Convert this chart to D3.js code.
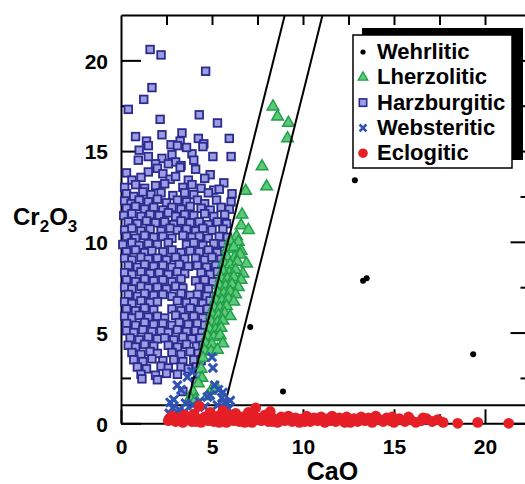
<!DOCTYPE html>
<html>
<head>
<meta charset="utf-8">
<script src="https://cdn.jsdelivr.net/npm/d3@7"></script>
<style>
  html, body { margin: 0; padding: 0; background: #fff; overflow: hidden; }
  svg { display: block; font-family: "Liberation Sans", Arial, Helvetica, sans-serif; font-weight: bold; }
</style>
</head>
<body>
<svg id="chart" width="525" height="484"></svg>
<script>
// Garnet CaO vs Cr2O3 (wt%) classification plot

const xMajorTicks = [0, 5, 10, 15, 20];
const xMinorTicks = [2.5, 7.5, 12.5, 17.5];
const yMajorTicks = [0, 5, 10, 15, 20];
const yMinorTicks = [2.5, 7.5, 12.5, 17.5];
const topTicks = [2.5, 5, 7.5, 10, 12.5, 15, 17.5, 20];

// Field boundaries: CaO = intercept + slope * Cr2O3, above the Cr2O3 = 1 cut
const crCut = 1.0;
const boundaries = [
  { intercept: 3.375, slope: 0.25 },
  { intercept: 5.45, slope: 0.25 }
];

const seriesNames = ["Wehrlitic", "Lherzolitic", "Harzburgitic", "Websteritic", "Eclogitic"];

// [CaO, Cr2O3]
const wehrlitic = [
  [12.85, 13.4], [13.3, 7.85], [13.5, 8.0], [19.35, 3.8], [8.9, 1.75], [7.1, 5.3]
];

const harzburgitic = [
  [1.6, 20.6], [2.2, 20.3], [4.65, 19.4], [1.7, 18.5], [1.25, 17.85], [0.4, 17.3], [2.15, 16.75],
  [4.3, 17.0], [5.3, 16.55], [0.8, 15.8], [1.4, 15.55], [2.25, 15.9], [3.35, 16.0], [3.25, 15.55],
  [2.75, 15.35], [4.25, 15.7], [4.55, 15.4], [5.95, 15.7], [1.0, 15.05], [0.95, 14.5], [2.25, 14.6],
  [2.8, 14.8], [5.05, 14.7], [6.05, 14.7], [1.9, 14.3], [3.0, 14.4], [3.9, 14.85], [1.5, 15.3],
  [3.1, 15.3], [3.6, 15.2], [4.5, 15.25], [2.6, 14.3], [3.3, 14.2], [4.0, 14.5], [1.5, 14.7],
  [0.3, 13.8], [1.5, 13.85], [2.0, 14.05], [2.3, 13.75], [3.25, 14.1], [4.1, 14.0], [4.9, 13.7],
  [0.6, 13.4], [1.1, 13.55], [2.7, 13.45], [3.0, 13.6], [3.7, 13.4], [4.6, 13.5], [5.65, 13.25],
  [0.2, 13.0], [0.8, 13.15], [1.3, 12.95], [1.9, 13.1], [2.4, 13.2], [3.4, 13.0], [3.9, 13.15],
  [4.4, 12.95], [5.1, 12.85], [5.4, 12.9],
  [0.3, 12.65], [0.7, 12.5], [1.2, 12.75], [1.65, 12.6], [2.2, 12.7], [2.85, 12.55], [3.5, 12.7],
  [4.0, 12.6], [4.8, 12.7], [6.1, 12.65],
  [0.2, 12.25], [0.55, 12.1], [1.0, 12.3], [1.5, 12.2], [2.0, 12.35], [2.5, 12.15], [3.1, 12.3],
  [3.6, 12.2], [4.2, 12.3], [4.6, 12.1], [5.25, 12.3], [6.05, 12.2],
  [0.3, 11.85], [0.8, 11.95], [1.3, 11.8], [1.8, 11.9], [2.3, 11.75], [2.8, 11.9], [3.3, 11.8],
  [3.8, 11.95], [4.4, 11.85], [4.9, 11.75], [5.5, 11.9], [5.95, 11.8],
  [0.15, 11.45], [0.6, 11.55], [1.1, 11.4], [1.6, 11.5], [2.1, 11.45], [2.6, 11.6], [3.0, 11.4],
  [3.5, 11.5], [4.0, 11.45], [4.6, 11.55], [5.1, 11.4], [5.7, 11.5],
  [0.4, 11.1], [0.9, 11.0], [1.4, 11.15], [1.9, 11.05], [2.4, 11.1], [2.9, 10.95], [3.3, 11.15],
  [3.8, 11.05], [4.3, 11.1], [4.8, 10.95], [5.3, 11.1], [5.8, 11.0],
  [0.2, 10.65], [0.6, 10.75], [1.1, 10.6], [1.6, 10.7], [2.2, 10.6], [2.7, 10.75], [3.1, 10.65],
  [3.6, 10.7], [4.1, 10.6], [4.5, 10.75], [5.0, 10.65], [5.6, 10.7],
  [0.3, 10.3], [0.8, 10.2], [1.3, 10.35], [1.8, 10.25], [2.3, 10.3], [2.8, 10.2], [3.4, 10.35],
  [3.9, 10.25], [4.3, 10.3], [4.8, 10.2], [5.4, 10.3], [5.85, 10.25],
  [0.1, 9.85], [0.6, 9.95], [1.0, 9.8], [1.5, 9.9], [2.0, 9.85], [2.6, 9.95], [3.6, 9.85],
  [4.0, 9.95], [4.5, 9.8], [5.1, 9.9], [5.6, 9.85],
  [0.3, 9.45], [0.8, 9.55], [1.3, 9.4], [1.7, 9.5], [2.3, 9.45], [2.8, 9.55], [3.3, 9.4],
  [3.8, 9.5], [4.3, 9.45], [4.8, 9.55], [5.3, 9.4], [5.7, 9.5],
  [0.2, 9.1], [0.6, 9.0], [1.1, 9.15], [1.5, 9.05], [2.0, 9.1], [2.5, 9.0], [3.0, 9.15],
  [3.5, 9.05], [4.1, 9.1], [4.6, 9.0], [5.0, 9.15], [5.5, 9.05],
  [0.4, 8.7], [0.9, 8.6], [1.3, 8.75], [1.8, 8.65], [2.3, 8.7], [2.8, 8.6], [3.2, 8.75],
  [3.7, 8.65], [4.2, 8.7], [4.7, 8.6], [5.2, 8.7],
  [0.2, 8.3], [0.6, 8.2], [1.1, 8.35], [1.6, 8.25], [2.1, 8.3], [2.6, 8.2], [3.1, 8.35],
  [3.5, 8.25], [4.4, 8.3], [4.9, 8.2], [5.3, 8.35],
  [0.3, 7.9], [0.8, 7.8], [1.3, 7.95], [1.8, 7.85], [2.3, 7.9], [2.8, 7.8], [3.3, 7.95],
  [4.1, 7.85], [4.6, 7.9], [5.05, 7.8],
  [0.2, 7.5], [0.6, 7.4], [1.1, 7.55], [1.5, 7.45], [2.0, 7.5], [2.5, 7.4], [3.0, 7.55],
  [3.4, 7.45], [4.3, 7.5], [4.8, 7.4],
  [0.4, 7.1], [0.9, 7.0], [1.3, 7.15], [1.8, 7.05], [2.3, 7.1], [2.8, 7.0], [3.3, 7.15],
  [3.8, 7.05], [4.2, 7.1], [4.7, 7.0],
  [0.2, 6.7], [0.6, 6.6], [1.1, 6.75], [1.6, 6.65], [2.0, 6.7], [3.1, 6.75], [3.6, 6.65],
  [4.0, 6.7], [4.5, 6.6], [4.9, 6.75],
  [0.3, 6.3], [0.8, 6.2], [1.3, 6.35], [1.8, 6.25], [2.8, 6.3], [3.3, 6.2], [3.8, 6.35],
  [4.3, 6.25], [4.75, 6.3],
  [0.2, 5.9], [0.6, 5.8], [1.0, 5.95], [1.5, 5.85], [2.0, 5.9], [2.4, 5.8], [3.0, 5.95],
  [3.5, 5.85], [4.0, 5.9], [4.5, 5.8],
  [0.3, 5.5], [0.8, 5.4], [1.3, 5.55], [1.8, 5.45], [2.3, 5.5], [2.8, 5.4], [3.2, 5.55],
  [3.7, 5.45], [4.2, 5.5], [4.6, 5.4],
  [0.3, 5.1], [0.7, 5.0], [1.2, 5.15], [1.7, 5.05], [2.2, 5.1], [2.6, 5.0], [3.1, 5.15],
  [3.6, 5.05], [4.1, 5.1], [4.45, 5.0],
  [0.5, 4.7], [1.0, 4.6], [1.5, 4.75], [2.0, 4.65], [2.4, 4.7], [2.9, 4.6], [3.4, 4.75],
  [3.9, 4.65], [4.35, 4.7],
  [0.4, 4.3], [0.8, 4.2], [1.3, 4.35], [1.8, 4.25], [2.6, 4.3], [3.1, 4.2], [3.6, 4.35],
  [4.15, 4.25], [4.5, 4.3],
  [0.6, 3.9], [1.1, 3.8], [1.6, 3.95], [2.0, 3.85], [2.8, 3.9], [3.3, 3.8], [3.8, 3.95], [4.25, 3.85],
  [0.7, 3.5], [1.2, 3.4], [1.7, 3.55], [2.3, 3.45], [2.9, 3.5], [3.4, 3.4], [4.0, 3.5], [4.4, 3.45],
  [0.9, 3.1], [1.4, 3.0], [2.2, 3.15], [2.6, 3.05], [3.3, 3.1], [3.7, 3.0], [4.15, 3.1],
  [1.1, 2.7], [1.9, 2.65], [2.5, 2.75], [3.1, 2.7], [4.3, 2.6],
  [1.15, 2.45], [2.0, 2.4], [4.1, 2.3], [3.4, 1.75]
];

const lherzolitic = [
  [8.35, 17.45], [8.6, 16.9], [9.2, 16.55], [9.15, 15.7], [7.75, 14.15], [8.0, 13.05],
  [6.85, 12.8], [6.65, 11.5], [6.6, 10.9], [7.0, 10.65], [6.35, 10.3],
  [6.0, 10.05], [6.45, 10.0],
  [5.85, 9.6], [6.2, 9.7], [6.6, 9.5],
  [5.8, 9.2], [6.25, 9.15], [6.55, 9.3],
  [5.65, 8.85], [6.0, 8.75], [6.4, 8.9], [6.9, 8.8],
  [5.6, 8.4], [5.95, 8.3], [6.3, 8.45], [6.7, 8.25],
  [5.5, 8.0], [5.85, 7.95], [6.2, 8.05], [6.6, 7.9],
  [5.4, 7.6], [5.75, 7.55], [6.1, 7.65], [6.45, 7.5],
  [5.3, 7.2], [5.65, 7.15], [6.0, 7.25], [6.3, 7.1],
  [5.2, 6.8], [5.55, 6.75], [5.9, 6.85], [6.2, 6.7],
  [5.1, 6.4], [5.45, 6.35], [5.8, 6.45],
  [5.0, 6.0], [5.35, 5.95], [5.7, 6.05], [6.0, 5.9],
  [4.95, 5.6], [5.3, 5.55], [5.6, 5.65],
  [4.85, 5.2], [5.2, 5.15], [5.5, 5.25],
  [4.75, 4.8], [5.1, 4.75], [5.45, 4.85],
  [4.65, 4.4], [5.0, 4.35], [5.6, 4.4],
  [4.6, 4.0], [4.95, 3.95], [5.3, 4.05],
  [4.5, 3.6], [4.4, 3.0], [4.45, 2.5], [4.25, 2.2],
  [3.95, 1.75], [4.95, 1.8], [4.75, 1.5], [3.8, 1.4], [4.1, 1.3], [5.25, 1.95]
];

const websteritic = [
  [5.0, 3.65], [5.05, 3.05], [3.1, 2.1], [3.3, 1.85], [5.15, 2.1], [5.35, 1.85], [4.9, 1.55],
  [5.55, 1.4], [5.7, 1.15], [2.7, 1.15], [2.85, 0.85], [3.5, 0.65], [3.95, 1.0], [3.8, 0.3],
  [5.0, 0.2], [3.9, 2.85], [3.65, 2.55], [4.75, 1.45], [5.6, 1.7], [2.65, 0.55], [3.2, 0.75],
  [3.3, 0.4], [4.3, 1.2], [4.6, 0.9], [5.3, 1.0], [5.9, 0.8], [2.9, 1.3], [3.55, 1.1],
  [6.0, 1.25], [4.05, 0.5]
];

const eclogitic = [
  [2.6, 0.15], [2.8, 0.4], [3.0, 0.1], [3.2, 0.3], [3.4, 0.05], [3.5, 0.45], [3.7, 0.2],
  [3.9, 0.1], [4.0, 0.5], [4.2, 0.25], [4.3, 0.95], [4.4, 0.05], [4.6, 0.35], [4.8, 0.15],
  [4.9, 0.6], [5.1, 0.1], [5.3, 0.4], [5.5, 0.2], [5.6, 0.7], [5.8, 0.05], [6.0, 0.3],
  [6.2, 0.15], [6.3, 0.55], [6.5, 0.1], [6.7, 0.35], [6.9, 0.2], [7.0, 0.6], [7.2, 0.05],
  [7.4, 0.85], [7.5, 0.3], [7.7, 0.15], [7.9, 0.45], [8.1, 0.1], [8.2, 0.65], [8.4, 0.25],
  [8.6, 0.05], [8.8, 0.35], [9.0, 0.15], [9.2, 0.4], [9.4, 0.1], [9.6, 0.3], [9.8, 0.05],
  [10.0, 0.25], [10.2, 0.4], [10.4, 0.1], [10.6, 0.3], [10.8, 0.15], [11.0, 0.35], [11.2, 0.05],
  [11.4, 0.25], [11.6, 0.4], [11.8, 0.1], [12.0, 0.3], [12.2, 0.15], [12.4, 0.35], [12.6, 0.05],
  [12.8, 0.25], [13.0, 0.1], [13.2, 0.35], [13.4, 0.15], [13.6, 0.3], [13.8, 0.05], [14.0, 0.4],
  [14.2, 0.2], [14.4, 0.1], [14.6, 0.3], [14.8, 0.15], [15.0, 0.05], [15.3, 0.25], [15.6, 0.1],
  [15.9, 0.2], [16.2, 0.05], [16.5, 0.15], [16.8, 0.25], [17.1, 0.1], [17.4, 0.2], [17.7, 0.05],
  [18.5, 0.0], [19.6, 0.05], [21.3, 0.0],
  [2.7, 0.3], [3.1, 0.2], [3.6, 0.35], [4.1, 0.1], [4.5, 0.25], [5.0, 0.3], [5.4, 0.05],
  [5.9, 0.45], [6.4, 0.25], [6.8, 0.05], [7.3, 0.4], [7.8, 0.25], [8.3, 0.1], [8.9, 0.2],
  [9.5, 0.25], [10.1, 0.1], [10.9, 0.3], [11.5, 0.15], [12.3, 0.05], [13.1, 0.2], [13.9, 0.25],
  [14.9, 0.35], [15.8, 0.35], [16.6, 0.3]
];

const colors = {
  wehrlitic: "#000000",
  lherzFill: "#5cc978", lherzStroke: "#1f9f47",
  harzFill: "#9d9de3", harzStroke: "#2b2b8f",
  webster: "#2f52b4",
  eclogite: "#e61e25"
};

const svg = d3.select("#chart");
const x = d3.scaleLinear().domain([0, 22.5]).range([121, 530.5]);
const y = d3.scaleLinear().domain([0, 22.5]).range([423.3, 15]);

const timesSymbol = d3.symbolTimes || d3.symbolX;

function styleAxis(g) {
  g.attr("font-family", null).attr("font-size", null);
  g.selectAll("path.domain").attr("stroke", "#000").attr("stroke-width", 2);
  g.selectAll(".tick line").attr("stroke", "#000").attr("stroke-width", 2);
  g.selectAll(".tick text").attr("fill", "#000").style("font-size", "21px").style("font-weight", "bold");
}

// Frame and axes
const gLeft = svg.append("g").attr("transform", `translate(${x(0)},0)`)
  .call(d3.axisLeft(y).tickValues(yMajorTicks).tickSize(-20).tickSizeOuter(0).tickPadding(13).tickFormat(d3.format("d")));
styleAxis(gLeft);
gLeft.selectAll(".tick text").attr("dy", "0.37em");
const gLeftMinor = svg.append("g").attr("transform", `translate(${x(0)},0)`)
  .call(d3.axisLeft(y).tickValues(yMinorTicks).tickSize(-10).tickFormat(""));
styleAxis(gLeftMinor);
gLeftMinor.select("path.domain").remove();

const gRight = svg.append("g").attr("transform", `translate(${x(22.5)},0)`)
  .call(d3.axisRight(y).tickValues(yMajorTicks).tickSize(-20).tickSizeOuter(0).tickFormat(""));
styleAxis(gRight);
const gRightMinor = svg.append("g").attr("transform", `translate(${x(22.5)},0)`)
  .call(d3.axisRight(y).tickValues(yMinorTicks).tickSize(-10).tickFormat(""));
styleAxis(gRightMinor);
gRightMinor.select("path.domain").remove();

const gTop = svg.append("g").attr("transform", `translate(0,${y(22.5)})`)
  .call(d3.axisTop(x).tickValues(topTicks).tickSize(-10).tickSizeOuter(0).tickFormat(""));
styleAxis(gTop);

const gBottom = svg.append("g").attr("transform", `translate(0,${y(0)})`)
  .call(d3.axisBottom(x).tickValues(xMajorTicks).tickSize(-14).tickSizeOuter(0).tickPadding(16).tickFormat(d3.format("d")));
styleAxis(gBottom);
const gBottomMinor = svg.append("g").attr("transform", `translate(0,${y(0)})`)
  .call(d3.axisBottom(x).tickValues(xMinorTicks).tickSize(-9).tickFormat(""));
styleAxis(gBottomMinor);
gBottomMinor.select("path.domain").remove();

// Harzburgitic squares
const sq = 7.6;
svg.append("g").selectAll("rect").data(harzburgitic).join("rect")
  .attr("x", d => x(d[0]) - sq / 2).attr("y", d => y(d[1]) - sq / 2)
  .attr("width", sq).attr("height", sq)
  .attr("fill", colors.harzFill).attr("stroke", colors.harzStroke).attr("stroke-width", 1.8);

// Lherzolitic triangles
svg.append("g").selectAll("path").data(lherzolitic).join("path")
  .attr("d", d3.symbol(d3.symbolTriangle, 58))
  .attr("transform", d => `translate(${x(d[0])},${y(d[1])})`)
  .attr("fill", colors.lherzFill).attr("stroke", colors.lherzStroke).attr("stroke-width", 1.5);

// Boundary lines
const lineGen = d3.line().x(d => x(d[0])).y(d => y(d[1]));
const gLines = svg.append("g").attr("fill", "none").attr("stroke", "#000").attr("stroke-width", 2);
gLines.append("path").attr("d", lineGen([[0, crCut], [22.5, crCut]]));
boundaries.forEach(b => {
  gLines.append("path").attr("d", lineGen([
    [b.intercept + b.slope * crCut, crCut],
    [b.intercept + b.slope * 22.5, 22.5]
  ]));
});

// Websteritic crosses
svg.append("g").selectAll("path").data(websteritic).join("path")
  .attr("d", d3.symbol(timesSymbol, 48))
  .attr("transform", d => `translate(${x(d[0])},${y(d[1])})`)
  .attr("fill", "none").attr("stroke", colors.webster).attr("stroke-width", 3);

// Wehrlitic dots
svg.append("g").selectAll("circle").data(wehrlitic).join("circle")
  .attr("cx", d => x(d[0])).attr("cy", d => y(d[1])).attr("r", 3)
  .attr("fill", colors.wehrlitic);

// Eclogitic circles
svg.append("g").selectAll("circle").data(eclogitic).join("circle")
  .attr("cx", d => x(d[0])).attr("cy", d => y(d[1])).attr("r", 5.4)
  .attr("fill", colors.eclogite);

// Axis titles
svg.append("text").attr("x", 332.5).attr("y", 479.5).attr("text-anchor", "middle")
  .style("font-size", "25px").text("CaO");
const yt = svg.append("text").attr("x", 13).attr("y", 225).style("font-size", "24px");
yt.append("tspan").text("Cr");
yt.append("tspan").attr("dy", 7).style("font-size", "17px").text("2");
yt.append("tspan").attr("dy", -7).text("O");
yt.append("tspan").attr("dy", 7).style("font-size", "17px").text("3");

// Legend with drop shadow
const leg = svg.append("g");
leg.append("rect").attr("x", 362).attr("y", 28).attr("width", 161).attr("height", 132).attr("fill", "#000");
leg.append("rect").attr("x", 353).attr("y", 35).attr("width", 159).attr("height", 133)
  .attr("fill", "#fff").attr("stroke", "#000").attr("stroke-width", 1.5);

const legendRows = leg.selectAll("g.row").data(seriesNames).join("g")
  .attr("class", "row")
  .attr("transform", (d, i) => `translate(363,${52 + i * 25.3})`);
legendRows.append("text").attr("x", 14).attr("y", 7).style("font-size", "22px").text(d => d);

legendRows.filter(d => d === "Wehrlitic").append("circle").attr("r", 2.6).attr("fill", colors.wehrlitic);
legendRows.filter(d => d === "Lherzolitic").append("path")
  .attr("d", d3.symbol(d3.symbolTriangle, 40))
  .attr("fill", colors.lherzFill).attr("stroke", colors.lherzStroke).attr("stroke-width", 1.3);
legendRows.filter(d => d === "Harzburgitic").append("rect")
  .attr("x", -3.7).attr("y", -3.7).attr("width", 7.4).attr("height", 7.4)
  .attr("fill", colors.harzFill).attr("stroke", colors.harzStroke).attr("stroke-width", 1.6);
legendRows.filter(d => d === "Websteritic").append("path")
  .attr("d", d3.symbol(timesSymbol, 32))
  .attr("fill", "none").attr("stroke", colors.webster).attr("stroke-width", 2.6);
legendRows.filter(d => d === "Eclogitic").append("circle").attr("r", 4.8).attr("fill", colors.eclogite);
</script>
</body>
</html>
